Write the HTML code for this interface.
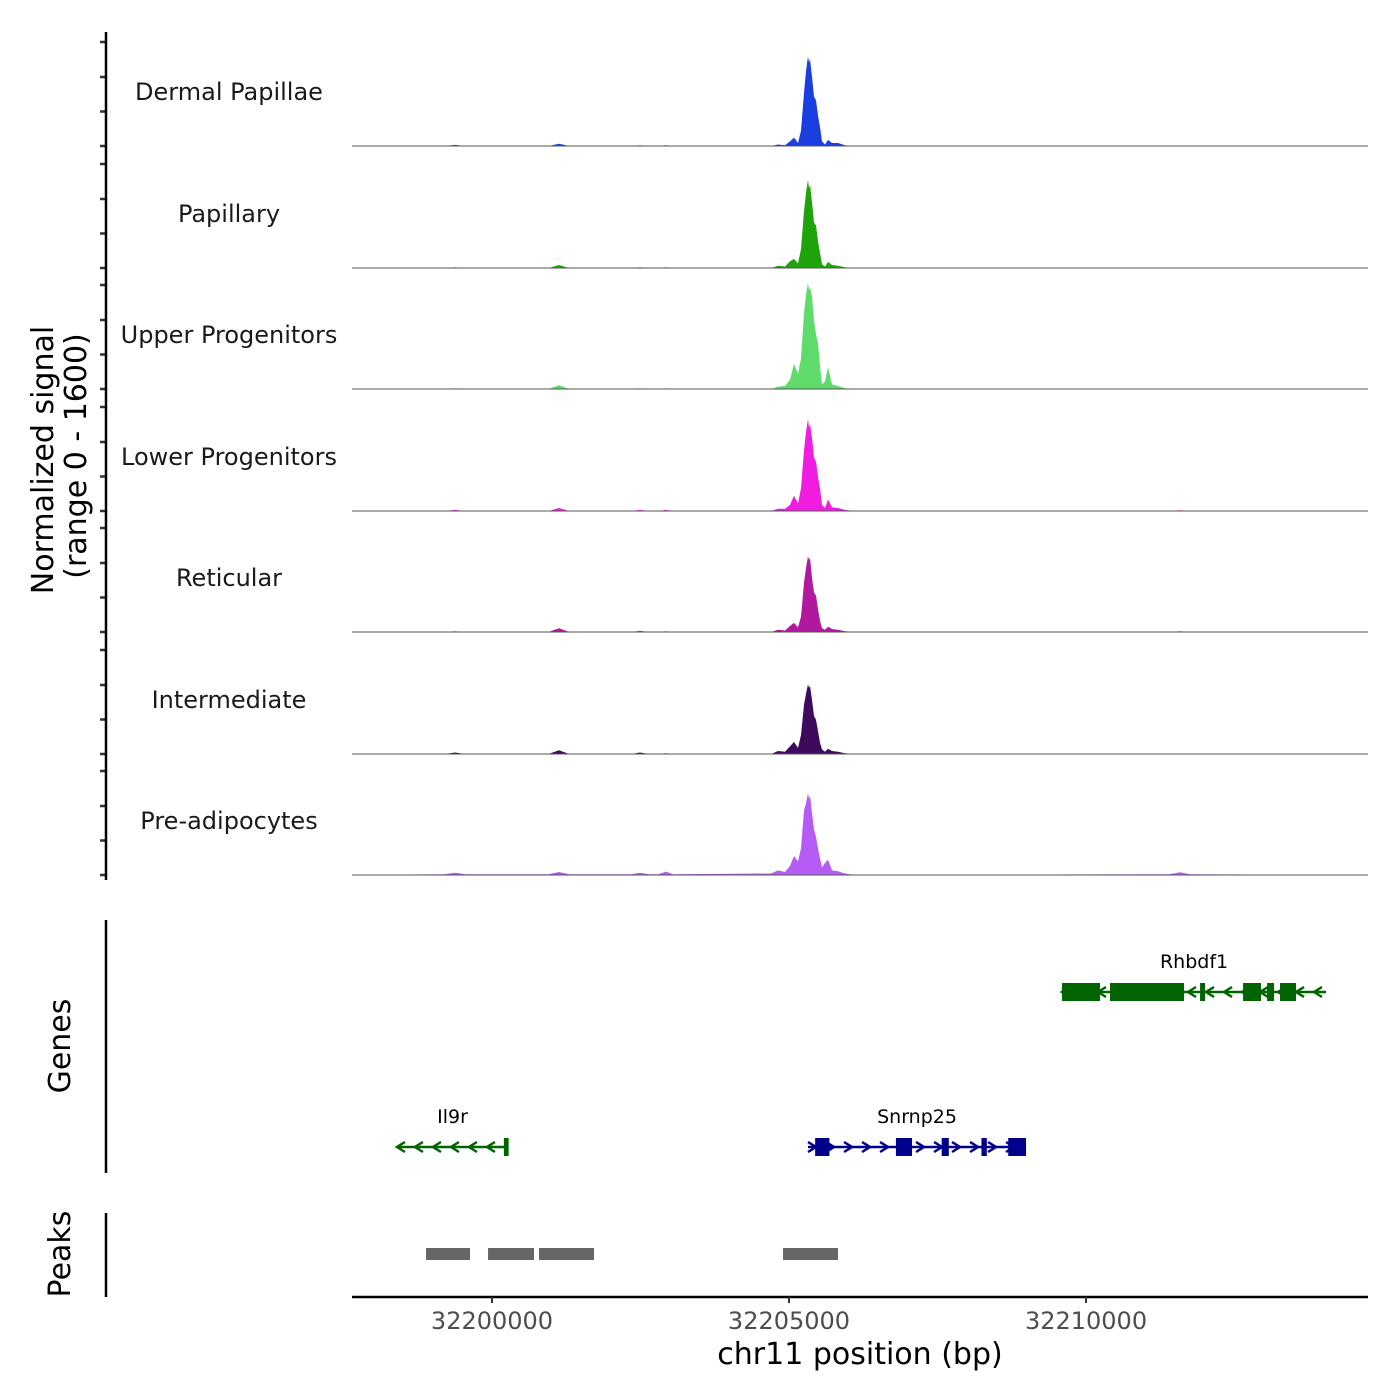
<!DOCTYPE html>
<html><head><meta charset="utf-8"><style>
html,body{margin:0;padding:0;background:#fff;width:1400px;height:1400px;overflow:hidden}
svg{display:block;font-family:"DejaVu Sans","Liberation Sans",sans-serif}
</style></head><body>
<svg id="chart" width="1400" height="1400" viewBox="0 0 1400 1400" xmlns="http://www.w3.org/2000/svg"></svg>
<script>
// ---- data ----
const trackNames = ["Dermal Papillae","Papillary","Upper Progenitors","Lower Progenitors","Reticular","Intermediate","Pre-adipocytes"];
const trackColors = ["#1a3ee0","#1fa30a","#5edb6a","#f01de0","#b0189e","#3d0a5c","#b45cf5"];
const positions = [32197643,32199200,32199377,32199550,32200950,32201128,32201300,32202350,32202491,32202650,32202800,32202929,32203050,32204700,32204815,32204933,32205017,32205084,32205152,32205202,32205253,32205287,32205320,32205337,32205354,32205388,32205421,32205455,32205488,32205522,32205556,32205606,32205657,32205724,32205825,32205943,32206111,32211400,32211582,32211750,32214747];
const sigDermal = [0,0,15,0,0,30,0,0,10,0,0,10,0,0,20,10,60,110,40,200,700,1000,1180,1100,1150,900,650,600,400,250,60,20,80,40,40,10,0,0,5,0,0];
const sigPapillary = [0,0,10,0,0,40,0,0,10,0,0,10,0,0,30,20,90,120,60,250,750,1000,1160,1050,1100,850,600,560,350,200,50,20,80,40,30,10,0,0,5,0,0];
const sigUpper = [0,0,10,0,0,50,0,0,10,0,0,10,0,0,30,40,120,330,200,400,1000,1250,1400,1300,1350,1200,900,720,600,300,60,100,290,60,40,10,0,0,5,0,0];
const sigLower = [0,0,15,0,0,40,0,0,15,0,0,15,0,0,30,30,80,200,100,300,800,1050,1210,1100,1150,950,700,650,450,300,80,40,150,50,40,15,0,0,10,0,0];
const sigReticular = [0,0,10,0,0,50,0,0,15,0,0,10,0,0,30,20,80,120,60,200,650,850,1000,950,980,700,520,480,300,150,50,30,70,40,30,10,0,0,10,0,0];
const sigIntermediate = [0,0,20,0,0,50,0,0,20,0,0,10,0,0,40,30,100,160,80,250,650,800,920,870,900,700,500,450,300,150,60,30,70,40,30,10,0,0,5,0,0];
const sigPreadipo = [0,10,30,10,10,40,10,10,30,10,10,45,10,20,60,40,120,250,180,350,850,950,1080,1000,1050,800,600,500,350,220,100,160,200,60,50,20,0,10,35,10,0];
const signals = [sigDermal,sigPapillary,sigUpper,sigLower,sigReticular,sigIntermediate,sigPreadipo];
const xTicks = [32200000,32205000,32210000];
const xTickLabels = ["32200000","32205000","32210000"];
const peakStarts = [32198889,32199933,32200791,32204899];
const peakEnds = [32199630,32200707,32201717,32205825];
const geneNames = ["Rhbdf1","Il9r","Snrnp25"];
const geneStarts = [32209596,32198400,32205320];
const geneEnds = [32214041,32200270,32208990];
const geneStrand = [-1,-1,1];
const geneRow = [0,1,1];
const exonGene = [0,0,0,0,0,0,1,2,2,2,2,2];
const exonStarts = [32209596,32210404,32211920,32212644,32213048,32213266,32200200,32205440,32206800,32207570,32208240,32208690];
const exonEnds = [32210236,32211650,32212004,32212947,32213165,32213536,32200280,32205680,32207070,32207690,32208330,32208990];

// ---- scales ----
const NS="http://www.w3.org/2000/svg";
const svg=document.getElementById('chart');
const X0=352,X1=1368,D0=32197643,D1=32214747;
const xs=v=>X0+(v-D0)/(D1-D0)*(X1-X0);
const baselines=[146,268,389,511,632,754,875];
const TH=121.5, MAXV=1600;
const ys=(v,b)=>b-v/MAXV*TH;
function el(tag,attrs,parent){const e=document.createElementNS(NS,tag);for(const k in attrs)e.setAttribute(k,attrs[k]);(parent||svg).appendChild(e);return e;}
function txt(s,attrs){const t=el('text',attrs);t.textContent=s;return t;}

signals.forEach((sig,i)=>{
  const b=baselines[i];
  let d=`M${xs(positions[0])},${b}`;
  positions.forEach((p,j)=>{d+=` L${xs(p).toFixed(1)},${ys(sig[j],b).toFixed(1)}`;});
  d+=` L${xs(positions[positions.length-1])},${b} Z`;
  const a=el('path',{d:d,fill:trackColors[i]});
  
  
  const ln=el('line',{x1:X0,x2:X1,y1:b,y2:b,stroke:'#555','stroke-width':1});
  
  
  const t=txt(trackNames[i],{x:229,y:b-46,'text-anchor':'middle','font-size':24,fill:'#1a1a1a'});
  
  
  [0,34.5,69,104].forEach(o=>{
    const tk=el('line',{x1:100,x2:106,y1:b-o,y2:b-o,stroke:'#333','stroke-width':2.5});
    
    
  });
});
[[32,880,'signal-y-axis'],[920,1173,'genes-y-axis'],[1213,1297,'peaks-y-axis']].forEach(a=>{
  const l=el('line',{x1:106,x2:106,y1:a[0],y2:a[1],stroke:'#000','stroke-width':2.5});
  
  
});
let yt=txt('Normalized signal',{x:0,y:0,transform:'translate(53,460) rotate(-90)','text-anchor':'middle','font-size':30,fill:'#000'});


yt=txt('(range 0 - 1600)',{x:0,y:0,transform:'translate(86,456) rotate(-90)','text-anchor':'middle','font-size':30,fill:'#000'});


yt=txt('Genes',{x:0,y:0,transform:'translate(70,1046) rotate(-90)','text-anchor':'middle','font-size':30,fill:'#000'});


yt=txt('Peaks',{x:0,y:0,transform:'translate(70,1254) rotate(-90)','text-anchor':'middle','font-size':30,fill:'#000'});



const rowY=[992,1147];
geneNames.forEach((g,i)=>{
  const y=rowY[geneRow[i]], col=geneStrand[i]<0?'#006400':'#00008b';
  const x1=xs(geneStarts[i]),x2=xs(geneEnds[i]);
  const l=el('line',{x1:x1,x2:x2,y1:y,y2:y,stroke:col,'stroke-width':2.5});
  
  
  const s=geneStrand[i];
  for(let x=x1+4;x<=x2-2;x+=18){
    const ch=el('path',{d:`M${x-4*s},${y-5} L${x+4*s},${y} L${x-4*s},${y+5}`,fill:'none',stroke:col,'stroke-width':2.5});
    
    
  }
  const t=txt(g,{x:(x1+x2)/2,y:y-24,'text-anchor':'middle','font-size':19,fill:'#000'});
  
  
});
exonStarts.forEach((s,j)=>{
  const g=exonGene[j], y=rowY[geneRow[g]], col=geneStrand[g]<0?'#006400':'#00008b';
  const r=el('rect',{x:xs(s),y:y-9,width:Math.max(3,xs(exonEnds[j])-xs(s)),height:18,fill:col});
  
  
});
peakStarts.forEach((s,j)=>{
  const r=el('rect',{x:xs(s),y:1248,width:xs(peakEnds[j])-xs(s),height:12,fill:'#666'});
  
  
});
const xa=el('line',{x1:X0,x2:X1,y1:1297,y2:1297,stroke:'#000','stroke-width':2.5});


xTicks.forEach((v,i)=>{
  const tk=el('line',{x1:xs(v),x2:xs(v),y1:1297,y2:1303,stroke:'#333','stroke-width':2});
  
  
  const t=txt(xTickLabels[i],{x:xs(v),y:1329,'text-anchor':'middle','font-size':24,fill:'#4d4d4d'});
  
  
});
const xt=txt('chr11 position (bp)',{x:860,y:1364,'text-anchor':'middle','font-size':30,fill:'#000'});


</script>
</body></html>
